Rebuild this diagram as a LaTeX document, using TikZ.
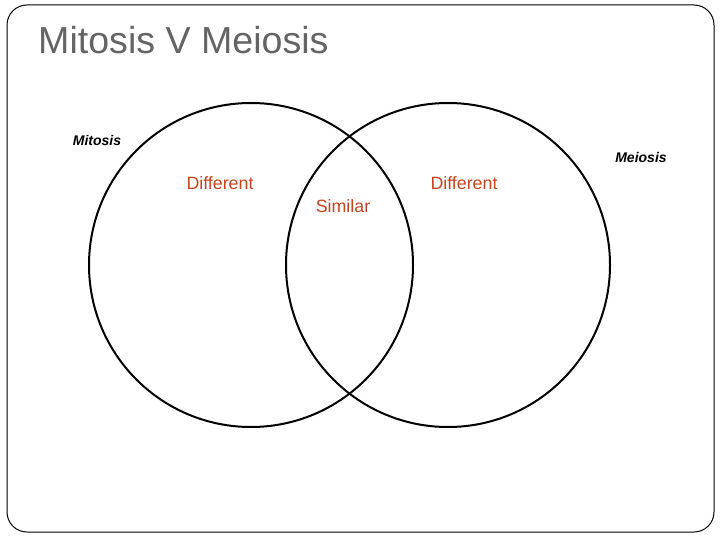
\documentclass[tikz,border=0pt]{standalone}
\usepackage{fontspec}
\setmainfont{Liberation Sans}
\definecolor{titlegray}{RGB}{100,100,100}
\definecolor{diffred}{RGB}{196,68,30}
\begin{document}
\begin{tikzpicture}[x=1pt,y=-1pt,
  ring/.style={draw=black,line width=2pt},
  setlabel/.style={font=\fontsize{14}{16}\selectfont\bfseries\itshape,text=black,inner sep=0pt},
  regionlabel/.style={font=\fontsize{17.8}{20}\selectfont,text=diffred,inner sep=0pt}]
\useasboundingbox (0,0) rectangle (720,540);
\draw[line width=1pt,rounded corners=20pt] (7,5) rectangle (714,532);
\node[anchor=west,text=titlegray,font=\fontsize{37.6}{40}\selectfont,inner sep=0pt] (title) at (38,40) {Mitosis V Meiosis};
\node[ring,circle,minimum size=324pt,inner sep=0pt] (mit) at (251,265) {};
\node[ring,circle,minimum size=324pt,inner sep=0pt] (mei) at (448,265) {};
\node[setlabel] (lmit) at (97,140) {Mitosis};
\node[setlabel] (lmei) at (641,157) {Meiosis};
\node[regionlabel] (d1) at (220,183) {Different};
\node[regionlabel] (d2) at (464,183) {Different};
\node[regionlabel] (sim) at (343,206) {Similar};
\end{tikzpicture}
\end{document}
